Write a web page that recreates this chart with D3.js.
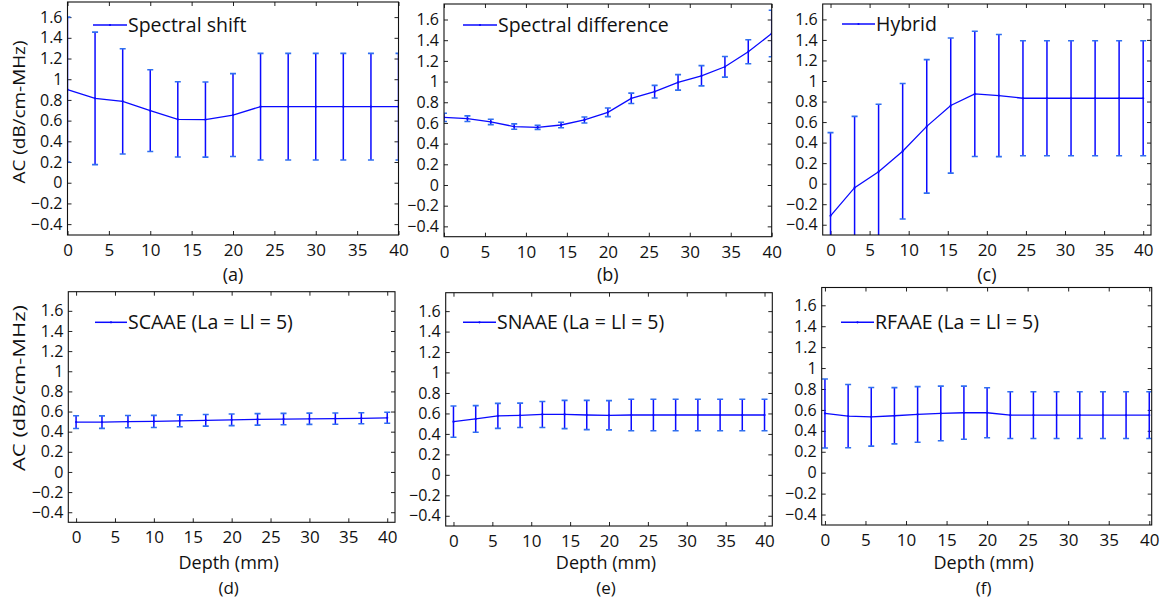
<!DOCTYPE html>
<html>
<head>
<meta charset="utf-8">
<script src="https://cdn.jsdelivr.net/npm/d3@7"></script>
<style>
  html, body { margin: 0; padding: 0; background: #fff; }
  svg { display: block; }
  text { font-family: "Open Sans", "DejaVu Sans", sans-serif; fill: #111; }
</style>
</head>
<body>
<svg id="fig" width="1168" height="603"></svg>
<script>
// Depth positions (mm) of the estimates
const depth13 = [0, 3.33, 6.67, 10, 13.33, 16.67, 20, 23.33, 26.67, 30, 33.33, 36.67, 40];
const depth14 = [0, 3.08, 6.15, 9.23, 12.31, 15.38, 18.46, 21.54, 24.62, 27.69, 30.77, 33.85, 36.92, 40];
const depth15 = [0, 2.86, 5.71, 8.57, 11.43, 14.29, 17.14, 20, 22.86, 25.71, 28.57, 31.43, 34.29, 37.14, 40];

// Attenuation coefficient estimates (mean and standard deviation), dB/cm-MHz
const shiftMean = [0.90, 0.815, 0.786, 0.696, 0.612, 0.61, 0.654, 0.735, 0.735, 0.735, 0.735, 0.735, 0.735];
const shiftErr  = [0.70, 0.64, 0.508, 0.395, 0.363, 0.363, 0.40, 0.515, 0.515, 0.515, 0.515, 0.515, 0.515];

const diffMean = [0.654, 0.641, 0.61, 0.565, 0.558, 0.58, 0.629, 0.703, 0.838, 0.902, 0.992, 1.056, 1.143, 1.288, 1.465];
const diffErr  = [0.04, 0.027, 0.026, 0.026, 0.02, 0.026, 0.029, 0.042, 0.05, 0.061, 0.075, 0.098, 0.10, 0.116, 0.225];

const hybridMean = [-0.313, -0.039, 0.116, 0.316, 0.558, 0.761, 0.874, 0.858, 0.832, 0.832, 0.832, 0.832, 0.832, 0.832];
const hybridErr  = [0.81, 0.694, 0.658, 0.66, 0.65, 0.658, 0.61, 0.595, 0.56, 0.56, 0.56, 0.56, 0.56, 0.56];

const scaaeMean = [0.495, 0.495, 0.50, 0.502, 0.508, 0.513, 0.518, 0.522, 0.525, 0.528, 0.53, 0.533, 0.538];
const scaaeErr  = [0.063, 0.062, 0.061, 0.06, 0.059, 0.058, 0.058, 0.057, 0.057, 0.056, 0.056, 0.055, 0.055];

const snaaeMean = [0.52, 0.546, 0.576, 0.582, 0.59, 0.59, 0.585, 0.582, 0.585, 0.585, 0.585, 0.585, 0.585, 0.585, 0.585];
const snaaeErr  = [0.153, 0.13, 0.122, 0.119, 0.127, 0.138, 0.143, 0.143, 0.154, 0.154, 0.154, 0.154, 0.154, 0.154, 0.154];

const rfaaeMean = [0.566, 0.541, 0.534, 0.544, 0.557, 0.566, 0.573, 0.573, 0.55, 0.55, 0.55, 0.55, 0.55, 0.55, 0.55];
const rfaaeErr  = [0.33, 0.302, 0.28, 0.269, 0.266, 0.261, 0.254, 0.239, 0.223, 0.223, 0.223, 0.223, 0.223, 0.223, 0.223];

// Axis ticks
const xTicks = [0, 5, 10, 15, 20, 25, 30, 35, 40];
const yTicks = [-0.4, -0.2, 0, 0.2, 0.4, 0.6, 0.8, 1, 1.2, 1.4, 1.6];

const seriesNames = ["Spectral shift", "Spectral difference", "Hybrid",
                     "SCAAE (La = Ll = 5)", "SNAAE (La = Ll = 5)", "RFAAE (La = Ll = 5)"];
const panelTags = ["(a)", "(b)", "(c)", "(d)", "(e)", "(f)"];

// Layout of the six sub-plots
const panels = [
  { mean: shiftMean,  err: shiftErr,  depth: depth13, box: [67.5, 2, 398.5, 235],      xd: [0, 40],     yd: [-0.505, 1.746], leg: [93, 127, 25],    row: 0 },
  { mean: diffMean,   err: diffErr,   depth: depth15, box: [444, 4, 771.7, 236.7],     xd: [0, 40],     yd: [-0.5, 1.75],    leg: [463, 497, 25],   row: 0 },
  { mean: hybridMean, err: hybridErr, depth: depth14, box: [822.7, 4, 1151, 235],      xd: [-1, 41],    yd: [-0.5, 1.75],    leg: [842, 875, 24],   row: 0 },
  { mean: scaaeMean,  err: scaaeErr,  depth: depth13, box: [68.3, 291.7, 395, 522.3],  xd: [-1, 41],    yd: [-0.5, 1.79],    leg: [95, 127, 322.3], row: 1 },
  { mean: snaaeMean,  err: snaaeErr,  depth: depth15, box: [445.7, 292.7, 772.3, 526], xd: [-1, 41],    yd: [-0.5, 1.78],    leg: [463, 496, 322.3], row: 1 },
  { mean: rfaaeMean,  err: rfaaeErr,  depth: depth15, box: [821.7, 287.5, 1151.7, 525], xd: [-0.4, 40.3], yd: [-0.5, 1.77],  leg: [841, 874, 322.3], row: 1 }
];

const blue = "#0a0aff";
const svg = d3.select("#fig");
const fmt = v => {
  const s = d3.format("~g")(Math.round(v * 10) / 10);
  return s.replace("-", "\u2212");
};

panels.forEach((p, i) => {
  const [x0, y0, x1, y1] = p.box;
  const x = d3.scaleLinear().domain(p.xd).range([x0, x1]);
  const y = d3.scaleLinear().domain(p.yd).range([y1, y0]);
  const g = svg.append("g");

  const clipId = "clip" + i;
  svg.append("clipPath").attr("id", clipId)
    .append("rect").attr("x", x0).attr("y", y0).attr("width", x1 - x0).attr("height", y1 - y0);

  // axes with inward ticks on all four sides
  const tick = 4;
  g.append("g").attr("transform", `translate(0,${y1})`)
    .call(d3.axisBottom(x).tickValues(xTicks).tickSize(-tick).tickPadding(9).tickFormat(d3.format("d")))
    .call(a => a.select(".domain").remove())
    .call(a => a.selectAll("text").attr("font-size", 17).attr("fill", "#111").attr("font-family", "'Open Sans', sans-serif"));
  g.append("g").attr("transform", `translate(0,${y0})`)
    .call(d3.axisTop(x).tickValues(xTicks).tickSize(-tick).tickFormat(""))
    .call(a => a.select(".domain").remove());
  g.append("g").attr("transform", `translate(${x0},0)`)
    .call(d3.axisLeft(y).tickValues(yTicks).tickSize(-tick).tickPadding(5).tickFormat(fmt))
    .call(a => a.select(".domain").remove())
    .call(a => a.selectAll("text").attr("font-size", 16).attr("fill", "#111").attr("font-family", "'Open Sans', sans-serif"));
  g.append("g").attr("transform", `translate(${x1},0)`)
    .call(d3.axisRight(y).tickValues(yTicks).tickSize(-tick).tickFormat(""))
    .call(a => a.select(".domain").remove());
  g.selectAll(".tick line").attr("stroke", "#222").attr("stroke-width", 1);

  // data: error bars and mean line
  const pts = p.depth.map((d, k) => ({ d, m: p.mean[k], e: p.err[k] }));
  const plot = g.append("g").attr("clip-path", `url(#${clipId})`);
  const cap = 3;
  const eb = plot.selectAll(".eb").data(pts).join("g").attr("class", "eb");
  eb.append("line")
    .attr("x1", d => x(d.d)).attr("x2", d => x(d.d))
    .attr("y1", d => y(d.m + d.e)).attr("y2", d => y(d.m - d.e))
    .attr("stroke", blue).attr("stroke-width", 1.5);
  eb.append("line")
    .attr("x1", d => x(d.d) - cap).attr("x2", d => x(d.d) + cap)
    .attr("y1", d => y(d.m + d.e)).attr("y2", d => y(d.m + d.e))
    .attr("stroke", "#2f6ff0").attr("stroke-width", 1.6);
  eb.append("line")
    .attr("x1", d => x(d.d) - cap).attr("x2", d => x(d.d) + cap)
    .attr("y1", d => y(d.m - d.e)).attr("y2", d => y(d.m - d.e))
    .attr("stroke", "#2f6ff0").attr("stroke-width", 1.6);
  plot.append("path").datum(pts)
    .attr("d", d3.line().x(d => x(d.d)).y(d => y(d.m)))
    .attr("fill", "none").attr("stroke", blue).attr("stroke-width", 1.3);
  plot.selectAll(".dot").data(pts).join("circle")
    .attr("cx", d => x(d.d)).attr("cy", d => y(d.m)).attr("r", 1.1).attr("fill", blue);

  // frame
  g.append("rect").attr("x", x0).attr("y", y0).attr("width", x1 - x0).attr("height", y1 - y0)
    .attr("fill", "none").attr("stroke", "#111").attr("stroke-width", 1.1);

  // legend
  const [lx0, lx1, ly] = p.leg;
  g.append("line").attr("x1", lx0).attr("x2", lx1).attr("y1", ly).attr("y2", ly)
    .attr("stroke", blue).attr("stroke-width", 1.5);
  g.append("circle").attr("cx", (lx0 + lx1) / 2).attr("cy", ly).attr("r", 1.1).attr("fill", blue);
  g.append("text").attr("x", lx1 + 1).attr("y", ly + 6.5).attr("font-size", 19.5).text(seriesNames[i]);

  // captions
  const cx = (x0 + x1) / 2;
  if (p.row === 0) {
    g.append("text").attr("x", cx).attr("y", 281).attr("text-anchor", "middle").attr("font-size", 18).text(panelTags[i]);
  } else {
    g.append("text").attr("x", cx - 3).attr("y", 569).attr("text-anchor", "middle").attr("font-size", 18).text("Depth (mm)");
    g.append("text").attr("x", cx - 3).attr("y", 594).attr("text-anchor", "middle").attr("font-size", 17).text(panelTags[i]);
  }
  if (i === 0 || i === 3) {
    const cy = i === 0 ? 112 : 388;
    const len = i === 0 ? 143 : 166;
    g.append("text").attr("transform", `translate(25,${cy}) rotate(-90)`)
      .attr("text-anchor", "middle").attr("font-size", 17)
      .attr("textLength", len).attr("lengthAdjust", "spacingAndGlyphs")
      .text("AC (dB/cm-MHz)");
  }
});
</script>
</body>
</html>
